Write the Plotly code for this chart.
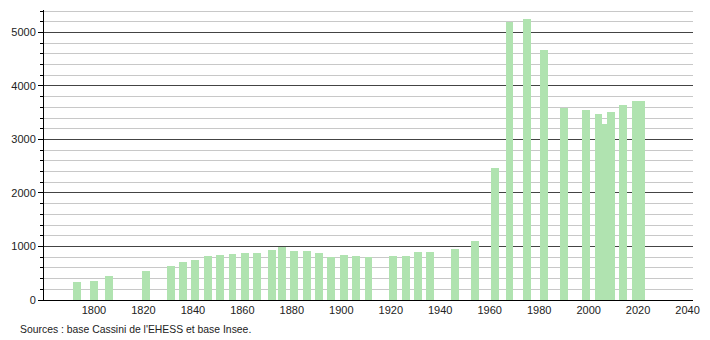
import plotly.graph_objects as go

years = [1793, 1800, 1806, 1821, 1831, 1836, 1841, 1846, 1851, 1856,
         1861, 1866, 1872, 1876, 1881, 1886, 1891, 1896, 1901, 1906,
         1911, 1921, 1926, 1931, 1936, 1946, 1954, 1962, 1968, 1975,
         1982, 1990, 1999, 2004, 2006, 2009, 2014, 2019, 2021]
population = [342, 361, 454, 542, 641, 710, 747, 822, 846, 859,
              878, 880, 934, 984, 915, 910, 878, 809, 841, 828,
              809, 828, 826, 903, 891, 953, 1108, 2473, 5200, 5250,
              4670, 3594, 3549, 3475, 3288, 3512, 3643, 3712, 3712]

x_ticks = list(range(1800, 2041, 20))
y_ticks = list(range(0, 5001, 1000))
source_text = "Sources : base Cassini de l'EHESS et base Insee."

# draw shorter bars first so taller overlapping bars stay in front
order = sorted(range(len(years)), key=lambda i: population[i])
xs = [years[i] for i in order]
ys = [population[i] for i in order]

fig = go.Figure()
fig.add_trace(go.Bar(
    x=xs, y=ys, width=3.2,
    marker=dict(color="#b0e3b0", line=dict(width=0)),
    hoverinfo="x+y",
))

font = dict(family="Liberation Sans, Arial, sans-serif", size=11, color="#222222")

fig.update_layout(
    width=710, height=340,
    margin=dict(l=44, r=10, t=10, b=40),
    paper_bgcolor="white", plot_bgcolor="white",
    showlegend=False, bargap=0,
    font=font,
    xaxis=dict(
        range=[1779.8, 2042.2],
        tickvals=x_ticks, ticktext=[str(v) for v in x_ticks],
        showgrid=False, zeroline=False,
        showline=True, linecolor="black", linewidth=1,
        ticks="", tickfont=font,
    ),
    yaxis=dict(
        range=[0, 5420],
        tickvals=y_ticks, ticktext=[str(v) for v in y_ticks],
        showgrid=True, gridcolor="#444444", gridwidth=1,
        zeroline=False,
        showline=True, linecolor="black", linewidth=1,
        ticks="outside", ticklen=5, tickcolor="black",
        tickfont=font,
        minor=dict(dtick=200, showgrid=True, gridcolor="#c8c8c8",
                   ticks="outside", ticklen=3, tickcolor="black"),
    ),
)

fig.add_annotation(
    text=source_text, xref="paper", yref="paper",
    x=-0.04, y=-0.1, xanchor="left", yanchor="middle",
    showarrow=False, font=dict(family="Liberation Sans, Arial, sans-serif", size=10.4, color="#222222"),
)

fig.write_html("out.html")
